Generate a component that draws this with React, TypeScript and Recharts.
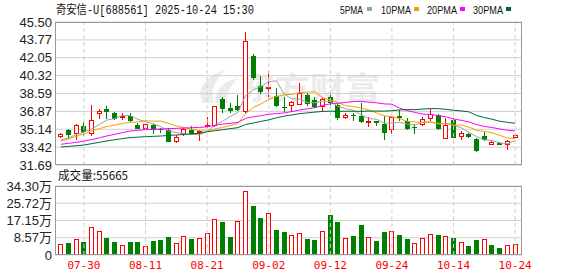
import React from 'react';
import { ComposedChart, Bar, Line, XAxis, YAxis, CartesianGrid, ReferenceLine } from 'recharts';

const dates = ['07-25','07-28','07-29','07-30','07-31','08-01','08-04','08-05','08-06','08-07','08-08','08-11','08-12','08-13','08-14','08-15','08-18','08-19','08-20','08-21','08-22','08-25','08-26','08-27','08-28','08-29','09-01','09-02','09-03','09-04','09-05','09-08','09-09','09-10','09-11','09-12','09-15','09-16','09-17','09-18','09-19','09-22','09-23','09-24','09-25','09-26','09-29','09-30','10-09','10-10','10-13','10-14','10-15','10-16','10-17','10-20','10-21','10-22','10-23','10-24'];

const opens = [34.43,35.08,34.66,35.49,34.69,36.65,37.07,36.74,36.23,36.42,35.56,35.20,35.52,35.12,35.04,33.92,34.68,35.10,34.81,35.36,35.49,38.03,37.16,37.35,36.77,42.17,39.35,39.02,38.32,37.32,37.35,37.51,38.45,37.93,37.26,38.28,37.51,36.26,36.50,36.42,35.92,35.97,35.68,35.07,36.42,35.93,35.36,35.55,36.10,36.52,34.23,36.03,34.40,34.68,34.23,34.49,33.66,33.79,33.62,34.33];
const highs = [34.82,35.14,35.69,35.88,37.45,37.07,37.39,36.84,36.71,36.71,35.75,35.69,35.62,35.30,35.30,34.56,35.39,35.49,35.10,36.29,37.38,38.28,37.64,38.48,44.49,42.40,40.24,40.76,39.12,38.22,37.85,39.57,38.67,38.28,38.19,38.67,37.55,36.74,36.74,37.64,36.32,35.97,36.42,36.36,36.97,36.26,35.62,36.32,37.06,36.58,36.26,36.19,34.97,34.81,34.33,34.88,34.11,33.95,34.11,34.65];
const lows = [34.27,34.24,34.11,34.50,34.47,36.10,36.10,36.07,36.07,35.88,35.17,35.17,34.66,34.75,33.89,33.79,34.49,34.59,34.04,35.26,35.39,36.71,36.68,36.87,36.61,39.92,38.54,38.22,37.32,36.77,36.85,37.45,37.38,37.19,36.84,37.50,36.04,36.16,35.91,35.78,35.39,35.42,34.11,34.69,35.97,35.07,34.72,35.46,35.94,35.04,34.17,34.33,34.07,34.27,32.98,34.01,33.66,33.62,33.11,34.27];
const closes = [34.72,34.59,35.52,34.88,36.07,36.94,36.81,36.17,36.42,35.94,35.17,35.65,35.10,35.05,33.92,34.37,35.17,34.68,34.94,35.52,37.38,37.10,36.90,36.97,43.69,40.08,38.70,39.25,37.38,37.29,37.80,38.61,37.55,37.26,38.06,37.66,36.19,36.48,36.44,35.84,35.98,35.74,34.75,36.36,36.23,35.13,35.30,36.10,36.58,35.13,35.55,34.33,34.81,34.40,33.05,34.07,33.95,33.62,34.04,34.56];
const volumes = [56000,59000,81000,63000,139000,119000,86000,63000,51000,63000,63000,46000,68000,73000,91000,61000,96000,78000,84000,111000,179000,162000,91000,171000,320000,242000,186000,210000,122000,113000,101000,111000,81000,76000,121000,197000,162000,84000,96000,151000,89000,71000,116000,119000,101000,81000,60000,84000,104000,101000,94000,86000,65000,46000,76000,80000,51000,36000,50000,55665];

const ma5 = [34.08,34.32,34.62,34.88,35.16,35.60,36.04,36.17,36.48,36.46,36.10,35.87,35.66,35.38,34.98,34.82,34.72,34.64,34.62,34.94,35.54,35.92,36.37,36.77,38.41,38.95,39.27,39.74,39.82,38.54,38.08,38.07,37.73,37.70,37.86,37.83,37.34,37.13,36.97,36.52,36.19,36.10,35.75,35.73,35.81,35.64,35.55,35.82,35.87,35.65,35.73,35.54,35.28,34.84,34.43,34.13,34.06,33.82,33.75,34.05];
const ma10 = [34.00,34.20,34.45,34.70,35.00,35.20,35.40,35.55,35.70,35.81,35.85,35.96,35.92,35.93,35.72,35.46,35.30,35.15,35.00,34.96,35.18,35.32,35.50,35.70,36.67,37.24,37.60,38.05,38.30,38.47,38.52,38.67,38.73,38.76,38.20,37.96,37.71,37.43,37.33,37.19,37.01,36.72,36.44,36.35,36.17,35.91,35.83,35.79,35.80,35.73,35.69,35.55,35.55,35.36,35.04,34.93,34.80,34.55,34.30,34.24];
const ma20 = [33.69,33.78,33.88,34.00,34.15,34.32,34.50,34.65,34.82,34.97,35.04,35.10,35.14,35.17,35.20,35.23,35.26,35.29,35.32,35.38,35.51,35.64,35.71,35.81,36.19,36.35,36.45,36.60,36.65,36.72,36.85,37.00,37.12,37.23,37.44,37.60,37.65,37.74,37.82,37.83,37.76,37.69,37.59,37.56,37.18,36.94,36.77,36.61,36.57,36.46,36.35,36.13,36.00,35.85,35.60,35.42,35.31,35.17,35.05,34.98];
const ma30 = [33.43,33.49,33.55,33.62,33.75,33.88,34.02,34.13,34.24,34.33,34.38,34.42,34.46,34.49,34.54,34.59,34.64,34.70,34.75,34.90,35.00,35.10,35.20,35.30,35.60,35.75,35.90,36.05,36.25,36.41,36.52,36.65,36.72,36.80,36.86,36.89,36.87,36.88,36.88,36.87,36.90,36.90,36.89,36.94,37.01,37.04,37.04,37.09,37.14,37.13,37.07,36.98,36.91,36.82,36.47,36.27,36.11,35.92,35.81,35.72];

const priceTicks = [31.69, 33.42, 35.14, 36.87, 38.59, 40.32, 42.05, 43.77, 45.5];
const volTicks = [0, 85700, 171500, 257200, 343000];
const dateTicks = ['07-30','08-11','08-21','09-02','09-12','09-24','10-14','10-24'];
const maNames = ['5PMA', '10PMA', '20PMA', '30PMA'];
const titleText = '奇安信-U[688561] 2025-10-24 15:30';
const volTitle = '成交量:55665';

const RED = '#ff0000';
const GREEN = '#008000';
const MA_COLORS = ['#a0a0a0', '#f5a000', '#ff00ff', '#006633'];
const GRID = '#cfcfcf';
const BORDER = '#999999';
const LABEL = '#222222';
const NUMFONT = "'Liberation Sans', Arial, sans-serif";

const data = dates.map((d, i) => ({
  date: d,
  open: opens[i],
  high: highs[i],
  low: lows[i],
  close: closes[i],
  range: [lows[i], highs[i]],
  vol: volumes[i],
  volUp: i === 0 ? closes[i] >= opens[i] : closes[i] >= closes[i - 1],
  ma5: ma5[i],
  ma10: ma10[i],
  ma20: ma20[i],
  ma30: ma30[i],
}));

function Candle(props: any) {
  const { x, y, width, height, payload } = props;
  if (!payload || x == null || y == null) return null;
  const { open, close, high, low } = payload;
  const top = Math.min(y, y + height);
  const h = Math.abs(height);
  const span = high - low;
  const k = span > 0 ? h / span : 0;
  const py = (v: number) => top + (high - v) * k;
  const cx = Math.floor(x + width / 2);
  const up = close > open;
  const color = up ? RED : GREEN;
  const bTop = Math.round(py(Math.max(open, close)));
  const bBot = Math.round(py(Math.min(open, close)));
  const bh = Math.max(1, bBot - bTop);
  return (
    <g>
      <line x1={cx + 0.5} x2={cx + 0.5} y1={Math.round(py(high))} y2={Math.round(py(low))} stroke={color} strokeWidth={1} />
      {up ? (
        <rect x={cx - 2 + 0.5} y={bTop + 0.5} width={4} height={Math.max(1, bh - 1)} fill="#ffffff" stroke={color} strokeWidth={1} />
      ) : (
        <rect x={cx - 2} y={bTop} width={5} height={bh} fill={color} />
      )}
    </g>
  );
}

function VolBar(props: any) {
  const { x, y, width, height, payload } = props;
  if (!payload || x == null || y == null) return null;
  const cx = Math.floor(x + width / 2);
  const top = Math.round(Math.min(y, y + height));
  const bot = Math.round(Math.max(y, y + height));
  const bh = Math.max(1, bot - top);
  if (payload.volUp) {
    return <rect x={cx - 2 + 0.5} y={top + 0.5} width={4} height={Math.max(1, bh - 1)} fill="#ffffff" stroke={RED} strokeWidth={1} />;
  }
  return <rect x={cx - 2} y={top} width={5} height={bh} fill={GREEN} />;
}

function PriceTick(props: any) {
  const { x, y, payload } = props;
  return (
    <text x={x} y={y + 4.5} textAnchor="end" fill={LABEL} fontSize={13} fontFamily={NUMFONT}>
      {Number(payload.value).toFixed(2)}
    </text>
  );
}

function VolTick(props: any) {
  const { x, y, payload } = props;
  const v = Number(payload.value);
  const label = v === 0 ? '0' : (v / 10000).toFixed(2) + '万';
  return (
    <text x={x} y={y + 4.5} textAnchor="end" fill={LABEL} fontSize={13} fontFamily={"'Liberation Sans', 'Noto Sans CJK SC', sans-serif"}>
      {label}
    </text>
  );
}

function DateTick(props: any) {
  const { x, y, payload } = props;
  if (!dateTicks.includes(payload.value)) return null;
  return (
    <text x={x} y={y + 12} textAnchor="middle" fill={RED} fontSize={11} fontFamily="'DejaVu Sans Mono', monospace">
      {payload.value}
    </text>
  );
}

const legendLayout = [
  { tx: 340, tw: 23, sq: 367 },
  { tx: 381, tw: 30, sq: 414 },
  { tx: 427, tw: 30, sq: 460 },
  { tx: 473, tw: 30, sq: 506 },
];

export default function App() {
  return (
    <div style={{ position: 'absolute', left: 0, top: 0, width: 578, height: 276, background: '#ffffff', overflow: 'hidden' }}>
      <svg width={578} height={276} style={{ position: 'absolute', left: 0, top: 0 }}>
        <g fill="#ebebeb">
          <path d="M203,103 C196,90 204,76 226,70 C214,80 210,92 214,103 Z" />
          <path d="M216,103 C214,92 222,82 238,78 C228,88 226,96 228,103 Z" />
        </g>
        <text x={240} y={99} fontSize={31} fontWeight="bold" fill="#ebebeb" fontFamily="'Noto Sans CJK SC', sans-serif" textLength={140} lengthAdjust="spacingAndGlyphs">东方财富</text>
        <text x={56} y={14} fontSize={12} fill="#111" fontFamily="'Liberation Mono', 'Noto Sans CJK SC', monospace" textLength={198} lengthAdjust="spacingAndGlyphs">{titleText}</text>
        {maNames.map((n, i) => (
          <g key={n}>
            <text x={legendLayout[i].tx} y={14} fontSize={11} fill="#111" fontFamily={NUMFONT} textLength={legendLayout[i].tw} lengthAdjust="spacingAndGlyphs">{n}</text>
            <rect x={legendLayout[i].sq} y={7} width={5} height={4} fill={MA_COLORS[i]} />
          </g>
        ))}
        <text x={58} y={180} fontSize={12} fill="#111" fontFamily="'Noto Sans CJK SC', sans-serif" textLength={70} lengthAdjust="spacingAndGlyphs">{volTitle}</text>
      </svg>

      <div style={{ position: 'absolute', left: 0, top: 0 }}>
        <ComposedChart width={578} height={176} data={data} margin={{ top: 22, right: 56, bottom: 11, left: 0 }}>
          <CartesianGrid vertical={false} stroke={GRID} />
          <XAxis dataKey="date" hide padding={{ left: 2, right: 3 }} />
          <YAxis
            domain={[31.69, 45.5]}
            ticks={priceTicks}
            interval={0}
            width={55}
            tickSize={0}
            tickMargin={3}
            axisLine={false}
            tickLine={false}
            allowDataOverflow
            tick={(p: any) => <PriceTick {...p} />}
          />
          {dateTicks.map((d) => (
            <ReferenceLine key={d} x={d} stroke={GRID} strokeDasharray="4 3" />
          ))}
          <Bar dataKey="range" isAnimationActive={false} shape={(p: any) => <Candle {...p} />} />
          <Line type="linear" dataKey="ma5" stroke={MA_COLORS[0]} strokeWidth={1} dot={false} activeDot={false} isAnimationActive={false} />
          <Line type="linear" dataKey="ma10" stroke={MA_COLORS[1]} strokeWidth={1} dot={false} activeDot={false} isAnimationActive={false} />
          <Line type="linear" dataKey="ma20" stroke={MA_COLORS[2]} strokeWidth={1} dot={false} activeDot={false} isAnimationActive={false} />
          <Line type="linear" dataKey="ma30" stroke={MA_COLORS[3]} strokeWidth={1} dot={false} activeDot={false} isAnimationActive={false} />
        </ComposedChart>
      </div>

      <div style={{ position: 'absolute', left: 0, top: 170 }}>
        <ComposedChart width={578} height={106} data={data} margin={{ top: 16, right: 56, bottom: 0, left: 0 }}>
          <CartesianGrid vertical={false} stroke={GRID} />
          <XAxis
            dataKey="date"
            interval={0}
            height={21}
            tickSize={0}
            tickMargin={2}
            axisLine={false}
            tickLine={false}
            padding={{ left: 2, right: 3 }}
            tick={(p: any) => <DateTick {...p} />}
          />
          <YAxis
            domain={[0, 343000]}
            ticks={volTicks}
            interval={0}
            width={55}
            tickSize={0}
            tickMargin={3}
            axisLine={false}
            tickLine={false}
            allowDataOverflow
            tick={(p: any) => <VolTick {...p} />}
          />
          {dateTicks.map((d) => (
            <ReferenceLine key={d} x={d} stroke={GRID} strokeDasharray="4 3" />
          ))}
          <Bar dataKey="vol" isAnimationActive={false} shape={(p: any) => <VolBar {...p} />} />
        </ComposedChart>
      </div>

      <svg width={578} height={276} style={{ position: 'absolute', left: 0, top: 0, pointerEvents: 'none' }}>
        <rect x={55.5} y={22.5} width={466} height={142} fill="none" stroke={BORDER} strokeWidth={1} />
        <rect x={55.5} y={186.5} width={466} height={68} fill="none" stroke={BORDER} strokeWidth={1} />
      </svg>
    </div>
  );
}
